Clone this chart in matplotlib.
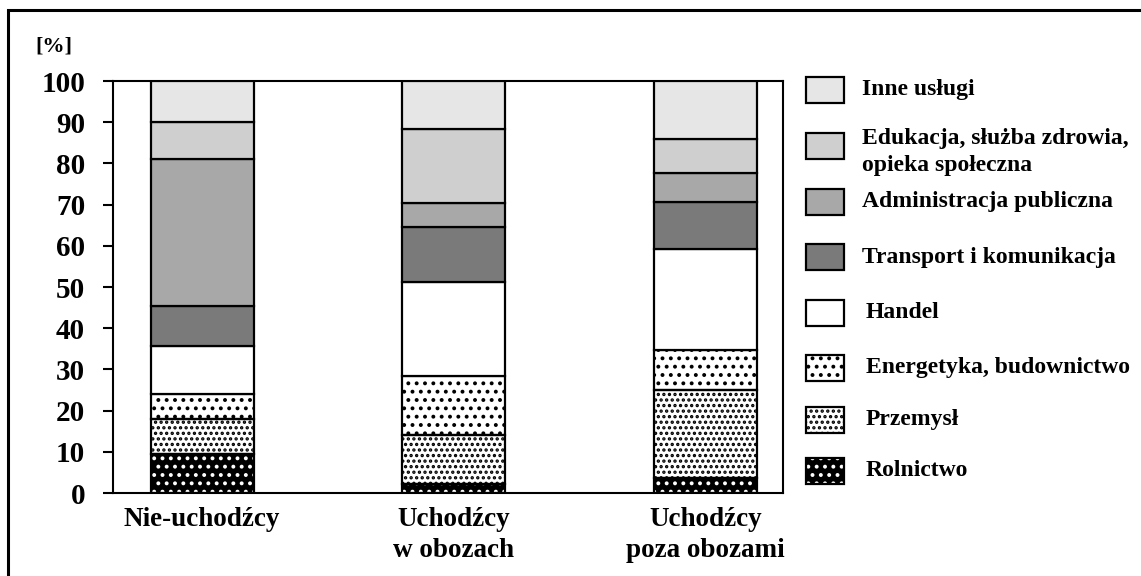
import matplotlib
matplotlib.use("Agg")
import matplotlib.pyplot as plt
from matplotlib.patches import Rectangle
import numpy as np

plt.rcParams['font.family'] = ['Liberation Serif', 'DejaVu Serif']
plt.rcParams['font.weight'] = 'bold'
plt.rcParams['hatch.linewidth'] = 1.6

groups = ["Nie-uchodźcy", "Uchodźcy\nw obozach", "Uchodźcy\npoza obozami"]
sectors = ["Rolnictwo", "Przemysł", "Energetyka, budownictwo", "Handel",
           "Transport i komunikacja", "Administracja publiczna",
           "Edukacja, służba zdrowia,\nopieka społeczna", "Inne usługi"]
rolnictwo = [9.5, 2.3, 3.7]
przemysl = [8.4, 11.7, 21.2]
energetyka = [6.1, 14.5, 9.9]
handel = [11.7, 22.8, 24.4]
transport = [9.8, 13.2, 11.4]
administracja = [35.5, 5.8, 7.1]
edukacja = [9.1, 18.0, 8.2]
inne = [9.9, 11.7, 14.1]
series = [rolnictwo, przemysl, energetyka, handel, transport,
          administracja, edukacja, inne]
yticks = [0, 10, 20, 30, 40, 50, 60, 70, 80, 90, 100]

# style per sector: (facecolor, hatch, hatchcolor)
styles = [("#000000", "..", "white"),
          ("white", "...", "black"),
          ("white", "..", "black"),
          ("white", "", "black"),
          ("#7a7a7a", "", "black"),
          ("#a8a8a8", "", "black"),
          ("#cfcfcf", "", "black"),
          ("#e6e6e6", "", "black")]

W, H = 1141, 576
fig = plt.figure(figsize=(W / 100, H / 100), dpi=100)
ax = fig.add_axes([113 / W, 1 - 493 / H, (783 - 113) / W, (493 - 81) / H])

x = np.arange(len(groups))
width = 0.41
bottom = np.zeros(len(groups))
for vals, (fc, hatch, hc) in zip(series, styles):
    vals = np.array(vals)
    if hatch:
        ax.bar(x, vals, width, bottom=bottom, color=fc, edgecolor=hc,
               hatch=hatch, linewidth=0, zorder=2)
        ax.bar(x, vals, width, bottom=bottom, fill=False, edgecolor="black",
               linewidth=1.6, zorder=3)
    else:
        ax.bar(x, vals, width, bottom=bottom, color=fc, edgecolor="black",
               linewidth=1.6, zorder=3)
    bottom += vals

ax.set_xlim(-0.354, 2.308)
ax.set_ylim(0, 100)
ax.set_yticks(yticks)
ax.set_yticklabels([str(t) for t in yticks], fontsize=21, fontweight='bold')
ax.set_xticks(x)
ax.set_xticklabels(groups, fontsize=19.5, fontweight='bold', linespacing=1.3)
ax.tick_params(axis='x', length=0, pad=10)
ax.tick_params(axis='y', length=7, width=1.5, direction='out', pad=13)
for s in ax.spines.values():
    s.set_linewidth(1.5)

fig.text(35 / W, 1 - 47 / H, "[%]", fontsize=16, fontweight='bold',
         ha='left', va='center')

# legend
ycent = [471, 420, 368, 313, 257, 202, 146, 90]
tx = [866, 866, 866, 866, 862, 862, 862, 862]
for (fc, hatch, hc), lab, yc, t in zip(styles, sectors, ycent, tx):
    y0 = 1 - (yc + 13) / H
    if hatch:
        fig.patches.append(Rectangle((806 / W, y0), 38 / W, 26 / H,
                                     transform=fig.transFigure, facecolor=fc,
                                     edgecolor=hc, hatch=hatch, linewidth=0))
        fig.patches.append(Rectangle((806 / W, y0), 38 / W, 26 / H,
                                     transform=fig.transFigure, fill=False,
                                     edgecolor='black', linewidth=1.6))
    else:
        fig.patches.append(Rectangle((806 / W, y0), 38 / W, 26 / H,
                                     transform=fig.transFigure, facecolor=fc,
                                     edgecolor='black', linewidth=1.6))
    if "\n" in lab:
        fig.text(t / W, 1 - (yc + 6) / H, lab, fontsize=17, fontweight='bold',
                 ha='left', va='center', linespacing=1.35)
    else:
        fig.text(t / W, 1 - yc / H, lab, fontsize=17, fontweight='bold',
                 ha='left', va='center')

# outer frame (left and top edges visible)
fig.patches.append(Rectangle((8 / W, -0.5), 2, 1.5 - 10 / H,
                             transform=fig.transFigure, fill=False,
                             edgecolor='black', linewidth=2.2))

fig.savefig("out.png", dpi=100)
